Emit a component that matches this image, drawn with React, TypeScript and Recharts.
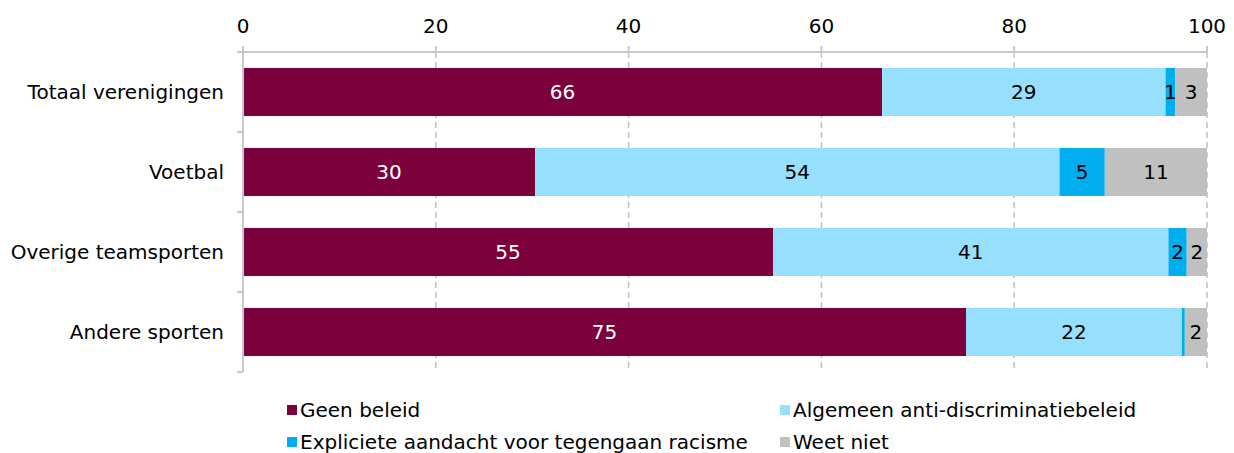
import { Bar, BarChart, CartesianGrid, LabelList, Legend, XAxis, YAxis } from "recharts";

const CATEGORIES = ["Totaal verenigingen", "Voetbal", "Overige teamsporten", "Andere sporten"];
const GEEN_BELEID = [66.3, 30.3, 55.0, 75.0];
const ALGEMEEN = [29.4, 54.4, 41.0, 22.4];
const EXPLICIET = [1.0, 4.7, 1.9, 0.3];
const WEET_NIET = [3.3, 10.6, 2.1, 2.3];
const X_TICKS = [0, 20, 40, 60, 80, 100];

const SERIES = [
  { key: "geen", name: "Geen beleid", color: "#7b003c", text: "#ffffff" },
  { key: "algemeen", name: "Algemeen anti-discriminatiebeleid", color: "#96dffd", text: "#000000" },
  { key: "expliciet", name: "Expliciete aandacht voor tegengaan racisme", color: "#00aeef", text: "#000000" },
  { key: "weet", name: "Weet niet", color: "#c0c0c0", text: "#000000" },
];

const data = CATEGORIES.map((name, i) => ({
  name,
  geen: GEEN_BELEID[i],
  algemeen: ALGEMEEN[i],
  expliciet: EXPLICIET[i],
  weet: WEET_NIET[i],
}));

const FONT = "'DejaVu Sans', sans-serif";
const AXIS_GREY = "#c8c8c8";

// category label plus tick marks on the band edges instead of the centre
const CategoryTick = (props: any) => {
  const { x, y, payload, index } = props;
  const half = payload.offset ?? 40;
  const last = index === CATEGORIES.length - 1;
  const ax = x; // tickMargin/tickSize are 0, so x is the axis line
  return (
    <g>
      <line x1={ax - 6} x2={ax} y1={y - half} y2={y - half} stroke={AXIS_GREY} strokeWidth={2} />
      {last && <line x1={ax - 6} x2={ax} y1={y + half} y2={y + half} stroke={AXIS_GREY} strokeWidth={2} />}
      <text x={ax - 19} y={y} dy={7} textAnchor="end" fontSize={20} fill="#000" fontFamily={FONT}>
        {payload.value}
      </text>
    </g>
  );
};

const renderLegend = () => (
  <div
    style={{
      display: "grid",
      gridTemplateColumns: "493px auto",
      paddingLeft: 287,
      fontFamily: FONT,
      fontSize: 20,
      color: "#000",
    }}
  >
    {SERIES.map((s) => (
      <div key={s.key} style={{ height: 32, display: "flex", alignItems: "center", whiteSpace: "nowrap" }}>
        <span style={{ width: 10, height: 10, background: s.color, marginRight: 3, display: "inline-block" }} />
        <span>{s.name}</span>
      </div>
    ))}
  </div>
);

export default function App() {
  return (
    <div style={{ position: "absolute", left: 0, top: 0 }}>
      <BarChart
        width={1234}
        height={453}
        data={data}
        layout="vertical"
        margin={{ top: 22, right: 27, left: 0, bottom: 81 }}
        barCategoryGap={16}
      >
        <CartesianGrid horizontal={false} stroke="#c0c0c0" strokeDasharray="6 4" strokeWidth={1.5} />
        <XAxis
          type="number"
          orientation="top"
          domain={[0, 100]}
          ticks={X_TICKS}
          height={30}
          stroke={AXIS_GREY}
          strokeWidth={2}
          tickSize={6}
          tickMargin={13}
          tick={{ fill: "#000", fontSize: 20, fontFamily: FONT }}
        />
        <YAxis
          type="category"
          dataKey="name"
          width={243}
          stroke={AXIS_GREY}
          strokeWidth={2}
          tickLine={false}
          tickSize={0}
          tickMargin={0}
          tick={<CategoryTick />}
        />
        <Legend
          layout="horizontal"
          verticalAlign="middle"
          align="center"
          content={renderLegend}
          wrapperStyle={{ top: 394, left: 0, width: 1234 }}
        />
        {SERIES.map((s) => (
          <Bar key={s.key} dataKey={s.key} name={s.name} stackId="a" fill={s.color} isAnimationActive={false}>
            <LabelList
              dataKey={s.key}
              position="center"
              fill={s.text}
              fontSize={20}
              fontFamily={FONT}
              formatter={(v: any) => (v >= 0.5 ? Math.round(v) : "")}
            />
          </Bar>
        ))}
      </BarChart>
    </div>
  );
}
